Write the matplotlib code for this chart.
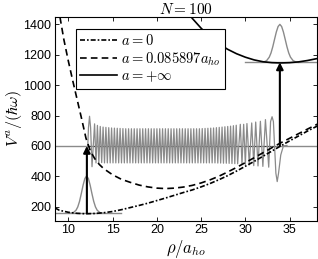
import matplotlib
matplotlib.use('Agg')
import matplotlib.pyplot as plt

plt.rcParams['font.family'] = ['Liberation Sans', 'DejaVu Sans']
plt.rcParams['mathtext.fontset'] = 'cm'

# effective potentials
rho_a0 = [8.5, 9, 10, 11, 12, 13, 14, 15, 16, 17, 18, 19, 20, 21, 22, 23, 24, 25,
          26, 27, 28, 29, 30, 31, 32, 33, 34, 35, 36, 37, 38.2]
V_a0 = [191, 176, 163, 156, 153, 155, 160, 168, 180, 194, 208, 223, 240, 257, 275,
        293, 310, 330, 352, 377, 404, 434, 466, 498, 532, 566, 600, 633, 665, 697, 733]

rho_amid = [9.06, 9.5, 10, 10.5, 11, 11.5, 12, 12.5, 13, 13.5, 14, 15, 16, 17, 18,
            19, 20, 21, 22, 23, 24, 25, 26, 27, 28, 29, 30, 31, 32, 33, 34, 35,
            36, 37, 38.2]
V_amid = [1448, 1300, 1160, 1030, 905, 780, 650, 565, 515, 478, 450, 410, 380, 360,
          342, 330, 322, 319, 322, 329, 340, 356, 376, 400, 428, 458, 490, 522, 555,
          588, 620, 650, 680, 710, 745]

rho_ainf = [23.6, 24, 25, 26, 27, 28, 29, 30, 31, 32, 33, 34, 35, 36, 37, 38.2]
V_ainf = [1470, 1440, 1375, 1318, 1272, 1236, 1207, 1184, 1166, 1154, 1148, 1146,
          1148, 1153, 1162, 1176]

# ground state (lower) and a=inf state (upper)
rho_low = [10.17, 10.57, 10.87, 11.07, 11.27, 11.47, 11.67, 11.87, 12.07, 12.27,
           12.47, 12.67, 12.87, 13.07, 13.27, 13.57, 13.97]
psi_low = [157, 161, 176, 198, 235, 286, 341, 385, 402, 385, 341, 286, 235, 198,
           176, 161, 157]
E_low = 157

rho_up = [31.8, 32.1, 32.4, 32.7, 32.9, 33.1, 33.3, 33.5, 33.7, 33.9, 34.1, 34.3,
          34.5, 34.7, 34.9, 35.1, 35.4, 35.7, 36.0]
psi_up = [1150, 1153, 1161, 1184, 1212, 1253, 1302, 1350, 1386, 1400, 1386, 1350,
          1302, 1253, 1212, 1184, 1161, 1153, 1150]
E_up = 1150

# oscillating state at the intermediate scattering length
wave_rho = [
    12.20, 12.28, 12.40, 12.52, 12.68, 12.97, 13.13, 13.29, 13.45, 13.61, 13.77, 13.93,
    14.09, 14.25, 14.41, 14.57, 14.73, 14.89, 15.05, 15.21, 15.37, 15.53,
    15.69, 15.85, 16.01, 16.17, 16.33, 16.49, 16.65, 16.81, 16.97, 17.13,
    17.29, 17.45, 17.61, 17.77, 17.93, 18.09, 18.25, 18.41, 18.57, 18.73,
    18.89, 19.05, 19.21, 19.37, 19.53, 19.69, 19.85, 20.01, 20.17, 20.33,
    20.49, 20.65, 20.81, 20.97, 21.13, 21.29, 21.45, 21.61, 21.77, 21.93,
    22.09, 22.25, 22.41, 22.57, 22.73, 22.89, 23.05, 23.21, 23.37, 23.53,
    23.69, 23.85, 24.01, 24.17, 24.33, 24.49, 24.65, 24.81, 24.97, 25.13,
    25.29, 25.45, 25.61, 25.77, 25.93, 26.09, 26.25, 26.41, 26.57, 26.73,
    26.89, 27.05, 27.21, 27.37, 27.53, 27.69, 27.85, 28.01, 28.17, 28.33,
    28.49, 28.65, 28.81, 28.97, 29.13,
    29.43, 29.62, 29.81, 30.00, 30.18, 30.45, 30.72, 30.95, 31.17, 31.43,
    31.70, 31.98, 32.27, 32.64, 32.85, 33.02, 33.17, 33.30, 33.45, 33.60,
    33.75, 34.00, 34.30, 34.70]
wave_V = [
    600, 720, 795, 720, 463, 745, 488, 735, 490, 728, 490, 724,
    488, 722, 488, 720, 488, 718, 488, 717, 488, 716,
    488, 715, 488, 714, 488, 713, 488, 713, 488, 713,
    488, 713, 488, 713, 488, 713, 488, 713, 488, 713,
    488, 713, 488, 713, 488, 713, 488, 713, 488, 713,
    488, 713, 488, 713, 488, 713, 488, 713, 488, 713,
    488, 713, 488, 713, 488, 713, 488, 713, 488, 713,
    488, 713, 488, 713, 488, 713, 488, 713, 488, 714,
    488, 715, 488, 716, 488, 717, 488, 718, 488, 720,
    487, 722, 487, 724, 486, 726, 486, 728, 485, 730,
    484, 733, 483, 736, 482,
    742, 480, 742, 478, 747, 475, 751, 470, 757, 468,
    762, 465, 773, 460, 760, 792, 760, 600, 420, 365,
    420, 540, 600, 603]
E_mid = 600
rho_turn = [12.2, 33.4]

xticks = [10, 15, 20, 25, 30, 35]
yticks = [200, 400, 600, 800, 1000, 1200, 1400]

fig = plt.figure(figsize=(3.18, 2.59), dpi=100)
ax = fig.add_axes([0.173, 0.147, 0.824, 0.787])

gray = '#8a8a8a'
ax.plot([8.5, 16.0], [E_low, E_low], color=gray, lw=1.0)
ax.plot([30.0, 38.1], [E_up, E_up], color=gray, lw=1.0)
ax.plot([8.5, 38.1], [E_mid, E_mid], color=gray, lw=1.0)
ax.plot(rho_turn, [E_mid, E_mid], color='#333333', lw=0.7, dashes=(3, 2))
ax.plot(wave_rho, wave_V, color=gray, lw=0.9)
ax.plot(rho_low, psi_low, color=gray, lw=1.0)
ax.plot(rho_up, psi_up, color=gray, lw=1.0)

ax.plot(rho_a0, V_a0, color='black', lw=1.2, dashes=(3, 1.2, 1, 1.2), label='$a=0$')
ax.plot(rho_amid, V_amid, color='black', lw=1.2, dashes=(4, 2.5),
        label='$a=0.085897a_{ho}$')
ax.plot(rho_ainf, V_ainf, color='black', lw=1.2, label='$a=+\\infty$')

ax.annotate('', xy=(12.1, E_mid), xytext=(12.1, E_low),
            arrowprops=dict(arrowstyle='-|>', color='black', lw=1.5,
                            mutation_scale=10, shrinkA=0, shrinkB=0))
ax.annotate('', xy=(33.9, E_up), xytext=(33.9, E_mid),
            arrowprops=dict(arrowstyle='-|>', color='black', lw=1.5,
                            mutation_scale=10, shrinkA=0, shrinkB=0))

ax.set_xlim(8.5, 38.1)
ax.set_ylim(106, 1448)
ax.set_xticks(xticks)
ax.set_yticks(yticks)
ax.tick_params(direction='in', top=True, right=True, labelsize=9, length=3,
               width=0.6, pad=2.5)
for s in ax.spines.values():
    s.set_linewidth(0.8)

ax.set_xlabel('$\\rho/a_{ho}$', fontsize=12, labelpad=1)
ax.set_ylabel('$V^a/(\\hbar\\omega)$', fontsize=11.5, labelpad=0)
ax.set_title('$N=100$', fontsize=11, pad=2)

leg = ax.legend(loc='upper left', bbox_to_anchor=(0.08, 0.941), fontsize=10.5,
                handlelength=2.5, handletextpad=0.3, labelspacing=0.12,
                borderpad=0.3, borderaxespad=0, fancybox=False, framealpha=1)
leg.get_frame().set_edgecolor('black')
leg.get_frame().set_linewidth(0.8)

fig.savefig('out.png', dpi=100)
